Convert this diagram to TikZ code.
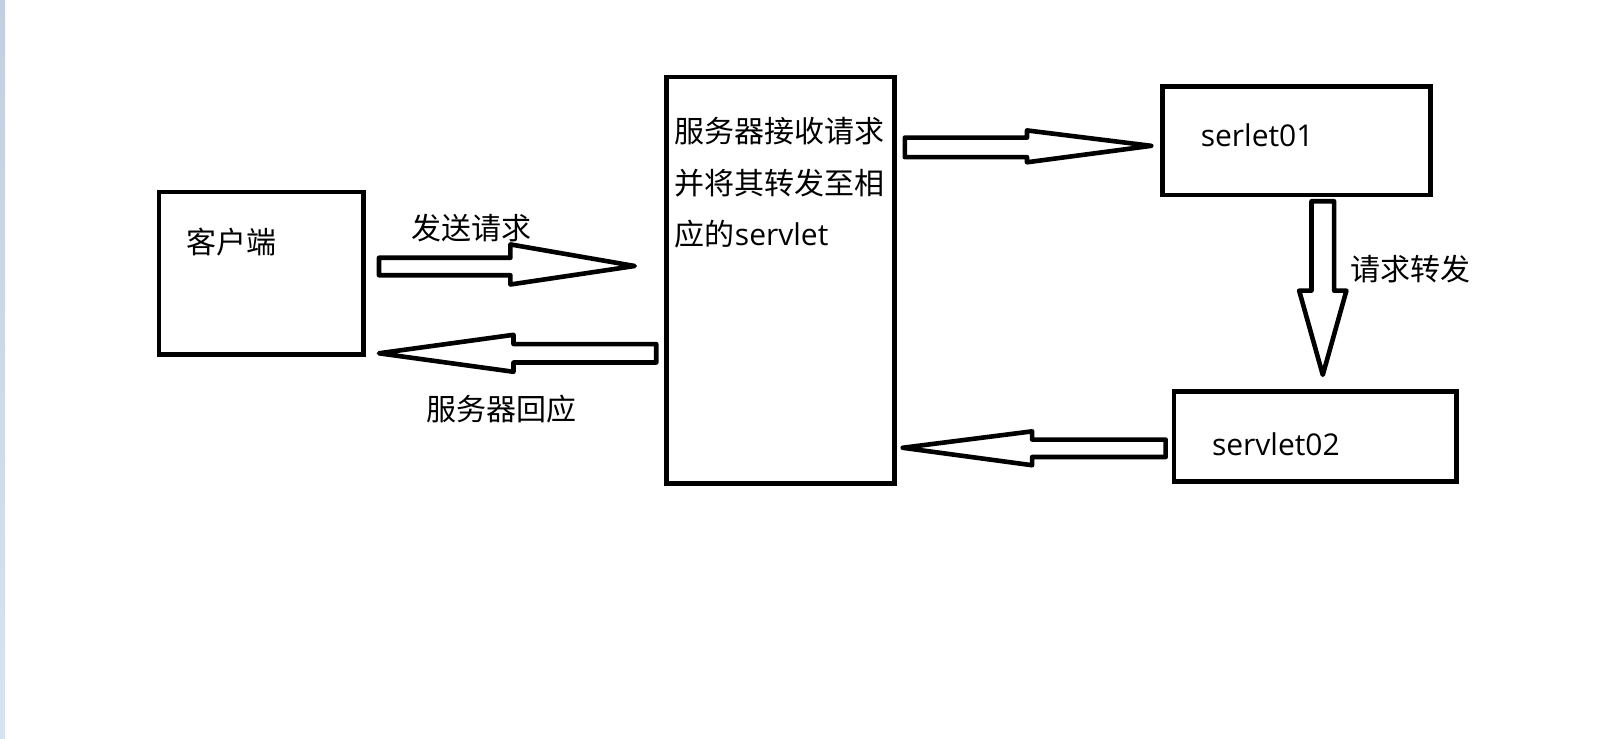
\documentclass[tikz,border=0pt]{standalone}
\usepackage{fontspec}
\setmainfont{Open Sans}
\newfontfamily\cjk{Noto Sans CJK SC}
\begin{document}
\begin{tikzpicture}[x=1.027pt,y=-1.027pt,
  box/.style={draw=black,line width=4.6pt,inner sep=0pt,outer sep=0pt},
  lbl/.style={inner sep=0pt,anchor=west,font=\fontsize{30}{51.5}\selectfont,text=black},
  barrow/.style={draw=black,fill=white,line width=4.6pt,line join=round}]
\useasboundingbox (0,0) rectangle (1567.67,718.6);
\fill[white] (0,0) rectangle (1567.67,718.6);
\shade[top color={rgb,255:red,197;green,206;blue,224},bottom color={rgb,255:red,216;green,226;blue,240}] (0,0) rectangle (5,718.6);
% boxes
\node[box,minimum width=204.4pt,minimum height=162.3pt] (client) at (254.5,266) {};
\node[box,minimum width=228pt,minimum height=406.7pt] (server) at (760,273) {};
\node[box,minimum width=268pt,minimum height=108.9pt] (s1) at (1262.5,137) {};
\node[box,minimum width=282.4pt,minimum height=90.4pt] (s2) at (1280.5,425) {};
% texts
\node[lbl] (tclient) at (181,236) {\cjk 客户端};
\node[lbl,align=left] (tserver) at (657,178) {\cjk 服务器接收请求\\\cjk 并将其转发至相\\{\cjk 应的}servlet};
\node[lbl] (ts1) at (1169,132) {serlet01};
\node[lbl] (ts2) at (1180,433) {servlet02};
\node[lbl] (tsend) at (400,222) {\cjk 发送请求};
\node[lbl] (treply) at (415,398) {\cjk 服务器回应};
\node[lbl] (tfwd) at (1315,262) {\cjk 请求转发};
% block arrows
\draw[barrow] (369,251) -- (497,251) -- (497,238) -- (618,259) -- (497,277) -- (497,268) -- (369,268) -- cycle;
\draw[barrow] (639,335) -- (500,335) -- (500,326) -- (369,344) -- (500,362) -- (500,353) -- (639,353) -- cycle;
\draw[barrow] (881,134) -- (1000,134) -- (1000,127) -- (1121,142) -- (1000,158) -- (1000,153) -- (881,153) -- cycle;
\draw[barrow] (1277,196) -- (1277,283) -- (1265,283) -- (1288,365) -- (1311,283) -- (1299,283) -- (1299,196) -- cycle;
\draw[barrow] (1135,428) -- (1005,428) -- (1005,420) -- (879,436) -- (1005,453) -- (1005,445) -- (1135,445) -- cycle;
\end{tikzpicture}
\end{document}
